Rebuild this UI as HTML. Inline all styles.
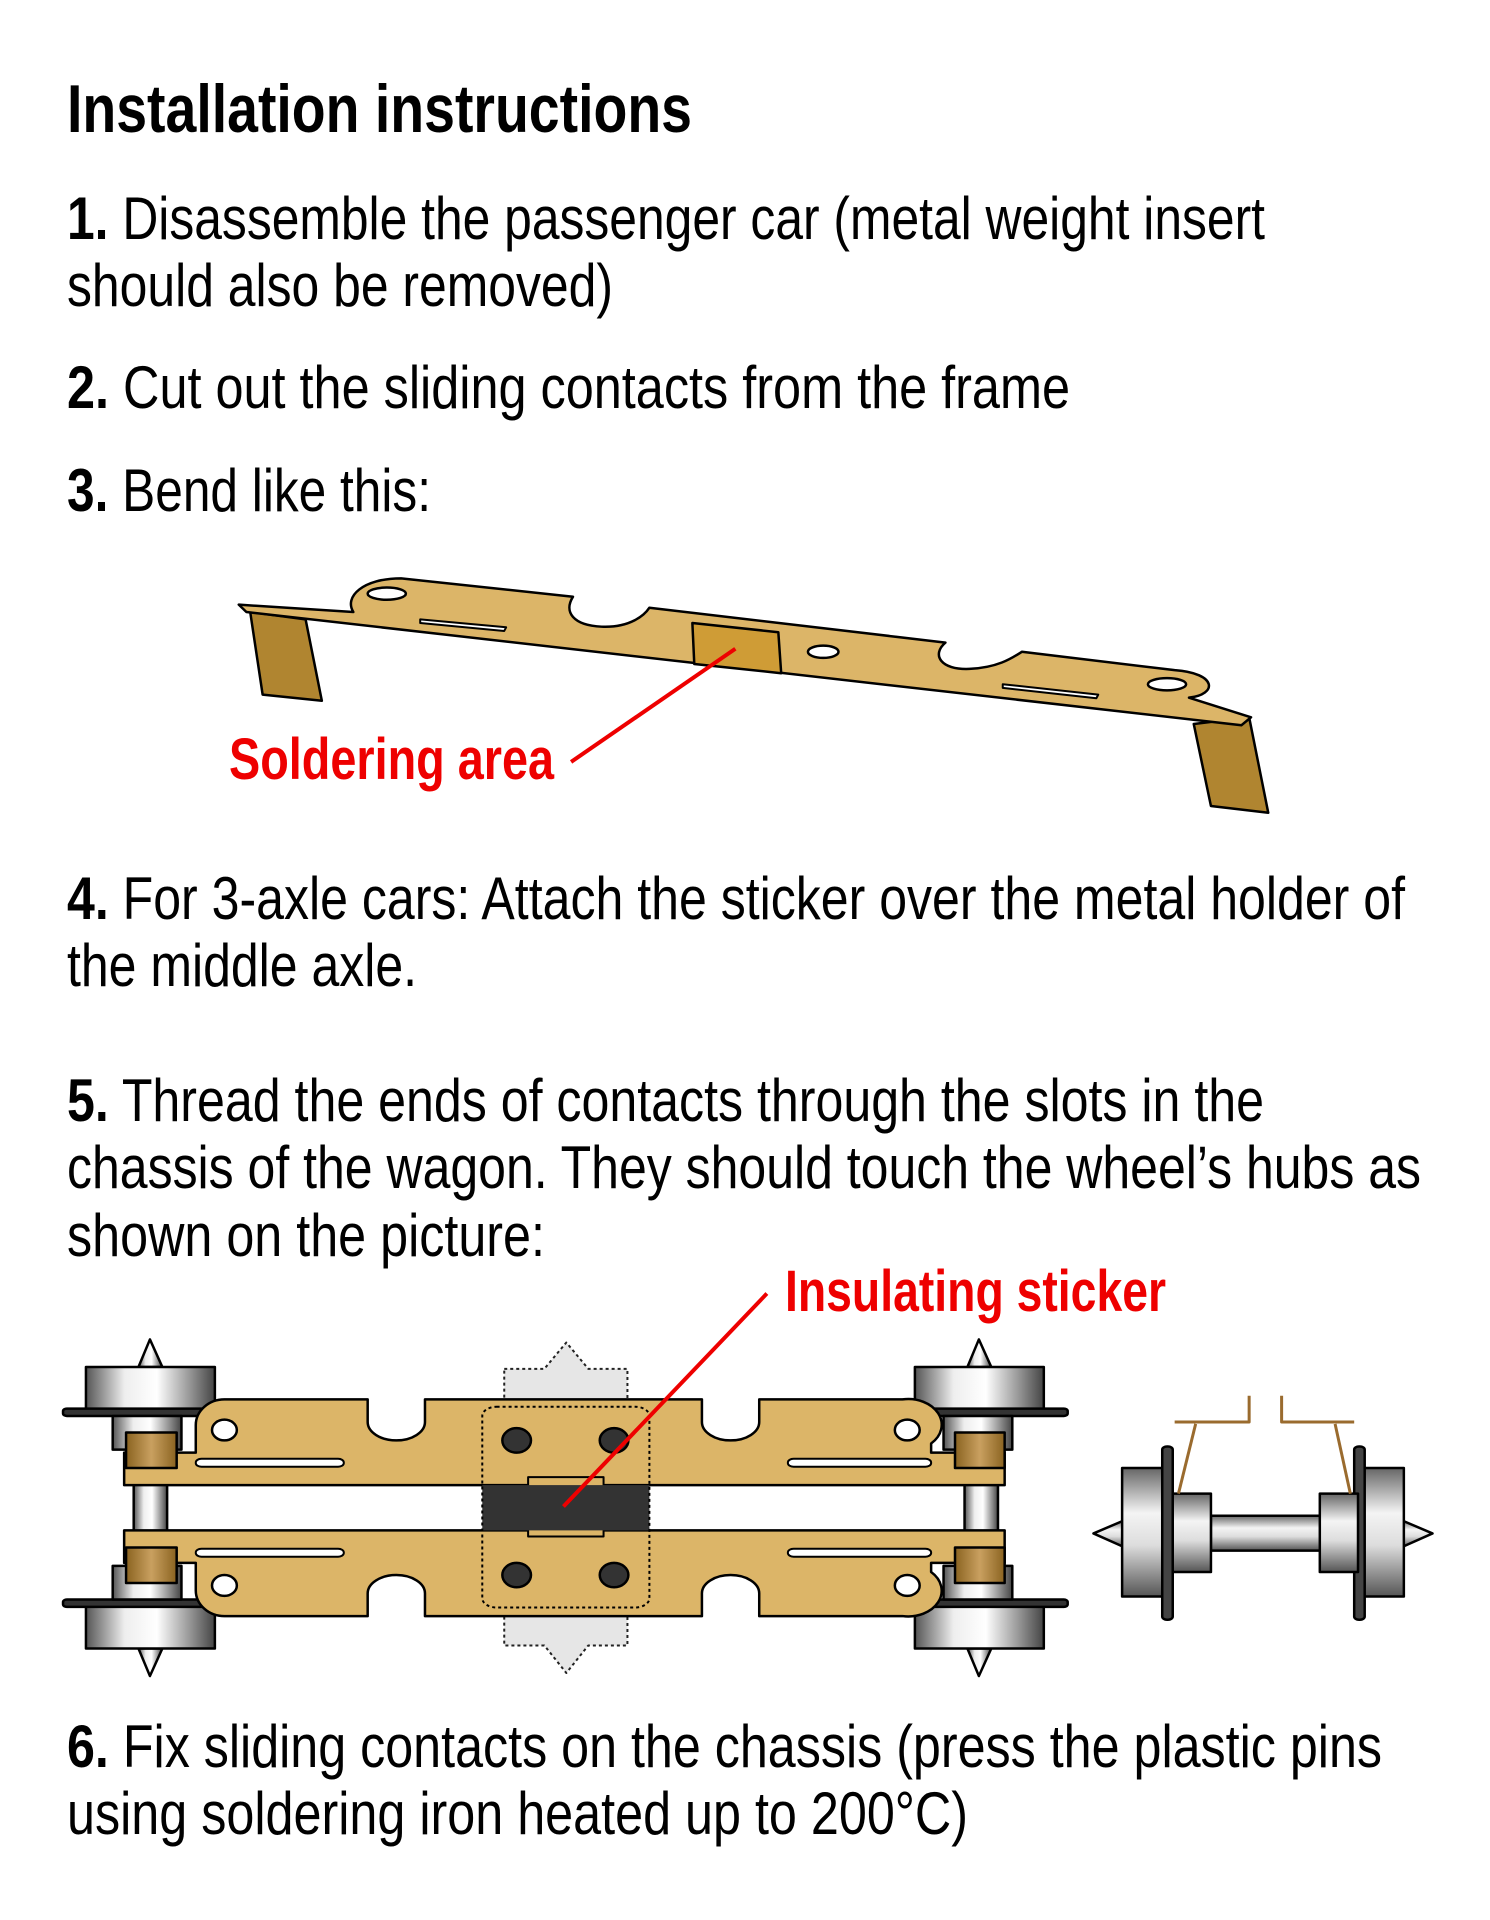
<!DOCTYPE html>
<html><head><meta charset="utf-8"><style>
html,body{margin:0;padding:0;background:#fff;}
svg{display:block;}
text{font-family:"Liberation Sans",sans-serif;}
.fig *{vector-effect:non-scaling-stroke;}
</style></head><body>
<svg width="1490" height="1920" viewBox="0 0 1490 1920" xmlns="http://www.w3.org/2000/svg">
<defs>
<linearGradient id="met" x1="0" x2="1" y1="0" y2="0">
<stop offset="0" stop-color="#555"/><stop offset="0.3" stop-color="#eee"/><stop offset="0.55" stop-color="#fff"/><stop offset="0.8" stop-color="#999"/><stop offset="1" stop-color="#444"/>
</linearGradient>
<linearGradient id="metv" x1="0" x2="0" y1="0" y2="1">
<stop offset="0" stop-color="#666"/><stop offset="0.35" stop-color="#f4f4f4"/><stop offset="0.6" stop-color="#ddd"/><stop offset="1" stop-color="#555"/>
</linearGradient>
<linearGradient id="brn" x1="0" x2="1" y1="0" y2="0">
<stop offset="0" stop-color="#8a6320"/><stop offset="0.5" stop-color="#c9a060"/><stop offset="1" stop-color="#8a6320"/>
</linearGradient>
</defs>
<g fill="#000">
<text x="67" y="132" font-size="68" font-weight="bold" textLength="625" lengthAdjust="spacingAndGlyphs">Installation instructions</text>
<g font-size="60">
<text x="67" y="239" textLength="1198" lengthAdjust="spacingAndGlyphs"><tspan font-weight="bold">1.</tspan> Disassemble the passenger car (metal weight insert</text>
<text x="67" y="306" textLength="546" lengthAdjust="spacingAndGlyphs">should also be removed)</text>
<text x="67" y="408" textLength="1003" lengthAdjust="spacingAndGlyphs"><tspan font-weight="bold">2.</tspan> Cut out the sliding contacts from the frame</text>
<text x="67" y="511" textLength="364" lengthAdjust="spacingAndGlyphs"><tspan font-weight="bold">3.</tspan> Bend like this:</text>
<text x="67" y="919" textLength="1338" lengthAdjust="spacingAndGlyphs"><tspan font-weight="bold">4.</tspan> For 3-axle cars: Attach the sticker over the metal holder of</text>
<text x="67" y="986" textLength="350" lengthAdjust="spacingAndGlyphs">the middle axle.</text>
<text x="67" y="1121" textLength="1197" lengthAdjust="spacingAndGlyphs"><tspan font-weight="bold">5.</tspan> Thread the ends of contacts through the slots in the</text>
<text x="67" y="1188" textLength="1354" lengthAdjust="spacingAndGlyphs">chassis of the wagon. They should touch the wheel’s hubs as</text>
<text x="67" y="1256" textLength="478" lengthAdjust="spacingAndGlyphs">shown on the picture:</text>
<text x="67" y="1767" textLength="1315" lengthAdjust="spacingAndGlyphs"><tspan font-weight="bold">6.</tspan> Fix sliding contacts on the chassis (press the plastic pins</text>
<text x="67" y="1834" textLength="901" lengthAdjust="spacingAndGlyphs">using soldering iron heated up to 200°C)</text>
</g>
<text x="229" y="779" font-size="58" font-weight="bold" fill="#e00" textLength="325" lengthAdjust="spacingAndGlyphs">Soldering area</text>
<text x="785" y="1311" font-size="58" font-weight="bold" fill="#e00" textLength="381" lengthAdjust="spacingAndGlyphs">Insulating sticker</text>
</g>

<!-- bent strip -->
<g class="fig" transform="scale(0.955,0.612)" stroke="#000" stroke-width="2.5" stroke-linejoin="round">
<polygon points="262,1000 320,1012 337,1145 275,1135" fill="#b08530"/>
<polygon points="1250,1183 1308,1172 1328,1328 1268,1317" fill="#b08530"/>
<path d="M250,988 L370,1000 C360,975 380,945 420,945 L600,975 C590,1000 600,1022 630,1024 C660,1026 675,1005 680,993 L990,1050 C975,1070 985,1095 1015,1093 C1045,1091 1060,1075 1070,1065 L1230,1095 C1275,1100 1275,1135 1245,1140 L1310,1172 L1300,1185 L258,1000 Z" fill="#dcb568"/>
<ellipse cx="405" cy="970" rx="20" ry="10" fill="#fff"/>
<ellipse cx="862" cy="1065" rx="16" ry="10" fill="#fff"/>
<ellipse cx="1222" cy="1118" rx="20" ry="10" fill="#fff"/>
<polygon points="440,1012 530,1025 528,1031 440,1018" fill="#fff" stroke-width="2"/>
<polygon points="1050,1118 1150,1135 1148,1141 1050,1124" fill="#fff" stroke-width="2"/>
<polygon points="725,1018 815,1033 818,1100 727,1085" fill="#cf9c36"/>
<line x1="598" y1="1245" x2="770" y2="1060" stroke="#e00" stroke-width="4"/>
</g>

<!-- bogie -->
<g class="fig" transform="translate(0,960) scale(0.955,0.612)" stroke="#000" stroke-width="2.5" stroke-linejoin="round">
<path d="M528,668 H570 L593,625 L616,668 H657 V1120 H616 L593,1165 L570,1120 H528 Z" fill="#e6e6e6" stroke="#222" stroke-width="2" stroke-dasharray="3,3"/>
<g id="wt">
<polygon points="157,620 145,665 170,665" fill="url(#met)"/>
<rect x="90" y="665" width="135" height="70" fill="url(#met)"/>
<rect x="66" y="733" width="170" height="12" rx="4" fill="#333"/>
<rect x="118" y="745" width="72" height="55" fill="url(#met)"/>
<polygon points="1025,620 1013,665 1038,665" fill="url(#met)"/>
<rect x="958" y="665" width="135" height="70" fill="url(#met)"/>
<rect x="935" y="733" width="183" height="12" rx="4" fill="#333"/>
<rect x="988" y="745" width="72" height="55" fill="url(#met)"/>
</g>
<use href="#wt" transform="translate(0,1790) scale(1,-1)"/>
<rect x="140" y="855" width="35" height="80" fill="url(#met)"/>
<rect x="1010" y="855" width="35" height="80" fill="url(#met)"/>
<g id="strip">
<path d="M235,718 H385 V755 A30,30 0 0 0 445,755 V718 H735 V755 A30,30 0 0 0 795,755 V718 H945 A35,42 0 0 1 975,790 L975,805 H1052 V858 H130 V805 H205 V760 A30,42 0 0 1 235,718 Z" fill="#dcb568"/>
<ellipse cx="235" cy="768" rx="13" ry="17" fill="#fff"/>
<ellipse cx="950" cy="768" rx="13" ry="17" fill="#fff"/>
<rect x="205" y="815" width="155" height="13" rx="6" fill="#fff" stroke-width="2"/>
<rect x="825" y="815" width="150" height="13" rx="6" fill="#fff" stroke-width="2"/>
<rect x="132" y="772" width="53" height="58" fill="url(#brn)"/>
<rect x="1000" y="772" width="52" height="58" fill="url(#brn)"/>
<ellipse cx="541" cy="785" rx="15" ry="20" fill="#333"/>
<ellipse cx="643" cy="785" rx="15" ry="20" fill="#333"/>
</g>
<use href="#strip" transform="translate(0,1790) scale(1,-1)"/>
<rect x="553" y="845" width="79" height="97" fill="#dcb568" stroke-width="2"/>
<rect x="505" y="858" width="175" height="74" fill="#333" stroke="none"/>
<rect x="505" y="730" width="175" height="328" rx="15" fill="none" stroke-width="2" stroke-dasharray="3,3"/>
<line x1="590" y1="893" x2="803" y2="545" stroke="#e00" stroke-width="4"/>
<polygon points="1145,937 1178,915 1178,960" fill="url(#metv)"/>
<polygon points="1500,937 1467,915 1467,960" fill="url(#metv)"/>
<rect x="1268" y="908" width="116" height="57" fill="url(#metv)"/>
<rect x="1175" y="830" width="50" height="210" fill="url(#metv)"/>
<rect x="1217" y="795" width="11" height="283" rx="5" fill="#444"/>
<rect x="1228" y="872" width="40" height="128" fill="url(#metv)"/>
<rect x="1422" y="830" width="48" height="210" fill="url(#metv)"/>
<rect x="1418" y="795" width="11" height="283" rx="5" fill="#444"/>
<rect x="1382" y="872" width="40" height="128" fill="url(#metv)"/>
<g stroke="#9a6b2e" stroke-width="3" fill="none">
<polyline points="1230,755 1308,755 1308,712"/>
<line x1="1252" y1="758" x2="1234" y2="872"/>
<polyline points="1342,712 1342,755 1418,755"/>
<line x1="1398" y1="758" x2="1414" y2="872"/>
</g>
</g>
</svg>
</body></html>
